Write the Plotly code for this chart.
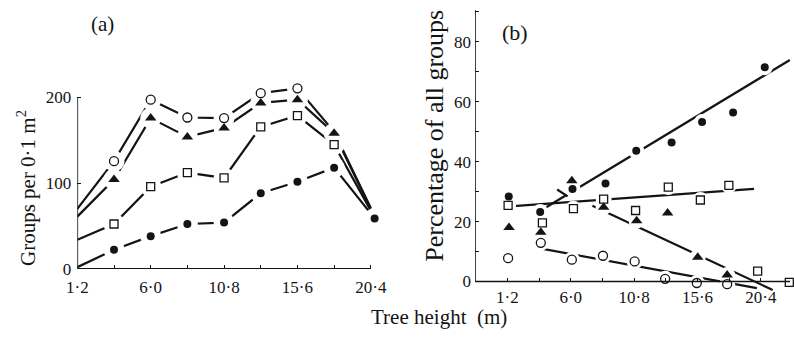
import plotly.graph_objects as go

W, H = 794, 342

# ---------------- data: panel (a) ----------------
heights = [1.2, 3.6, 6.0, 8.4, 10.8, 13.2, 15.6, 18.0, 20.4]
tick_labels = ["1·2", "", "6·0", "", "10·8", "", "15·6", "", "20·4"]

a_open = [70, 125.7, 197.4, 176.6, 175.9, 205, 210.6, 160, 71]
a_open_show = [0, 1, 1, 1, 1, 1, 1, 0, 0]
a_tri = [61, 104.2, 175.9, 154, 164.5, 193.6, 197.4, 158.2, 70]
a_tri_show = [0, 1, 1, 1, 1, 1, 1, 1, 0]
a_sq = [34, 52.4, 95.9, 112.4, 106.1, 165.7, 178.9, 144.9, 68]
a_sq_show = [0, 1, 1, 1, 1, 1, 1, 1, 0]
a_fill_x = [1.2, 3.6, 6.0, 8.4, 10.8, 13.2, 15.6, 18.0, 20.65]
a_fill = [2, 22.3, 38.2, 52.4, 54, 88.3, 101.6, 118.1, 58.9]
a_fill_show = [0, 1, 1, 1, 1, 1, 1, 1, 1]
a_yticks = [0, 100, 200]

# ---------------- data: panel (b) ----------------
b_fill_x = [1.30, 3.68, 6.13, 8.63, 10.96, 13.64, 15.95, 18.30, 20.70]
b_fill_y = [28.4, 23.2, 30.9, 32.7, 43.6, 46.4, 53.2, 56.4, 71.5]
b_sq_x = [1.25, 3.85, 6.20, 8.49, 10.91, 13.39, 15.82, 17.98, 20.16, 22.56]
b_sq_y = [25.4, 19.6, 24.3, 27.5, 23.7, 31.5, 27.2, 32.1, 3.5, -0.3]
b_tri_x = [1.32, 3.73, 6.08, 8.49, 10.99, 13.34, 15.62, 17.85]
b_tri_y = [18.0, 16.4, 33.6, 24.8, 20.3, 22.9, 8.1, 2.2]
b_open_x = [1.25, 3.73, 6.08, 8.44, 10.84, 13.15, 15.55, 17.85]
b_open_y = [7.8, 12.9, 7.3, 8.6, 6.7, 0.9, -0.5, -0.9]

fit_fill_x = [3.73, 22.6]
fit_fill_y = [23.7, 73.9]
fit_dash_x = [4.97, 5.76]
fit_dash_y = [30.7, 28.4]
fit_sq_x = [1.37, 19.89]
fit_sq_y = [25.1, 30.9]
fit_tri_x = [7.64, 21.3]
fit_tri_y = [25.3, -2.8]
fit_open_x = [3.36, 20.1]
fit_open_y = [11.3, -2.2]

b_yticks = [0, 10, 20, 30, 40, 50, 60, 70, 80, 90]
b_ytext = ["0", "", "20", "", "40", "", "60", "", "80", ""]

# ---------------- layout calibration (pixels) ----------------
INK = "#141414"
FONT = "Liberation Serif"

a_x0px, a_xpu = 67.6, 15.58
a_y0px, a_ypu = 277.0, 0.8831
a_xr = [1.2, 21.2]
a_yr = [0, 215]
b_x0px, b_xpu = 506.0, 13.45
b_y0px, b_ypu = 290.0, 3.0875
b_xr = [1.2 - (b_x0px - 473) / b_xpu, 1.2 + (W - b_x0px) / b_xpu]
b_yr = [-4, 92]


def fx(p):
    return p / W


def fy(p):
    return 1 - p / H


a_dom_x = [fx(a_x0px + (a_xr[0] - 1.2) * a_xpu), fx(a_x0px + (a_xr[1] - 1.2) * a_xpu)]
a_dom_y = [fy(a_y0px - a_yr[0] * a_ypu), fy(a_y0px - a_yr[1] * a_ypu)]
b_dom_x = [fx(b_x0px + (b_xr[0] - 1.2) * b_xpu), min(1.0, fx(b_x0px + (b_xr[1] - 1.2) * b_xpu))]
b_dom_y = [fy(b_y0px - b_yr[0] * b_ypu), fy(b_y0px - b_yr[1] * b_ypu)]

fig = go.Figure()


def pick(xs, ys, show):
    return [x for x, s in zip(xs, show) if s], [y for y, s in zip(ys, show) if s]


LW = 2.2

# ---- panel (a) lines (base axes x/y)
for xs, ys in [(heights, a_open), (heights, a_tri), (heights, a_sq), (a_fill_x, a_fill)]:
    fig.add_trace(go.Scatter(x=xs, y=ys, mode="lines", line=dict(color=INK, width=LW),
                             xaxis="x", yaxis="y", showlegend=False, hoverinfo="skip"))

a_sets = [
    (heights, a_open, a_open_show, dict(symbol="circle-open", size=9, color=INK, line=dict(width=1.3, color=INK))),
    (heights, a_tri, a_tri_show, dict(symbol="triangle-up", size=10, color=INK, line=dict(width=0))),
    (heights, a_sq, a_sq_show, dict(symbol="square-open", size=8, color=INK, line=dict(width=1.3, color=INK))),
    (a_fill_x, a_fill, a_fill_show, dict(symbol="circle", size=8, color=INK, line=dict(width=0))),
]
# white halos (on an overlaying subplot, so above the lines) leave gaps round markers
for xs, ys, show, mk in a_sets:
    px_, py_ = pick(xs, ys, show)
    fig.add_trace(go.Scatter(x=px_, y=py_, mode="markers", cliponaxis=False,
                             marker=dict(symbol="circle", size=21, color="white", line=dict(width=0)),
                             xaxis="x3", yaxis="y3", showlegend=False, hoverinfo="skip"))
for xs, ys, show, mk in a_sets:
    px_, py_ = pick(xs, ys, show)
    fig.add_trace(go.Scatter(x=px_, y=py_, mode="markers", cliponaxis=False, marker=mk,
                             xaxis="x3", yaxis="y3", showlegend=False))

# ---- panel (b) fitted lines (base axes x2/y2)
for xs, ys in [(fit_fill_x, fit_fill_y), (fit_dash_x, fit_dash_y), (fit_sq_x, fit_sq_y),
               (fit_tri_x, fit_tri_y), (fit_open_x, fit_open_y)]:
    fig.add_trace(go.Scatter(x=xs, y=ys, mode="lines", line=dict(color=INK, width=LW),
                             xaxis="x2", yaxis="y2", showlegend=False, hoverinfo="skip"))

b_sets = [
    (b_open_x, b_open_y, dict(symbol="circle-open", size=9, color=INK, line=dict(width=1.3, color=INK))),
    (b_tri_x, b_tri_y, dict(symbol="triangle-up", size=10, color=INK, line=dict(width=0))),
    (b_sq_x, b_sq_y, dict(symbol="square-open", size=8, color=INK, line=dict(width=1.3, color=INK))),
    (b_fill_x, b_fill_y, dict(symbol="circle", size=8, color=INK, line=dict(width=0))),
]
for xs, ys, mk in b_sets:
    fig.add_trace(go.Scatter(x=xs, y=ys, mode="markers", cliponaxis=False,
                             marker=dict(symbol="circle", size=16, color="white", line=dict(width=0)),
                             xaxis="x4", yaxis="y4", showlegend=False, hoverinfo="skip"))
for xs, ys, mk in b_sets:
    fig.add_trace(go.Scatter(x=xs, y=ys, mode="markers", cliponaxis=False, marker=mk,
                             xaxis="x4", yaxis="y4", showlegend=False))

tickfont = dict(family=FONT, size=17, color=INK)
axis_common = dict(showgrid=False, zeroline=False, showline=False, ticks="inside",
                   ticklen=4, tickwidth=1.3, tickcolor=INK, tickfont=tickfont, fixedrange=True)
hidden = dict(visible=False, showgrid=False, zeroline=False, fixedrange=True)

fig.update_layout(
    width=W, height=H, margin=dict(l=0, r=0, t=0, b=0),
    paper_bgcolor="white", plot_bgcolor="rgba(0,0,0,0)",
    xaxis=dict(domain=a_dom_x, range=a_xr, anchor="y", tickmode="array", ticklabelstandoff=6,
               tickvals=heights, ticktext=tick_labels, **axis_common),
    yaxis=dict(domain=a_dom_y, range=a_yr, anchor="x", tickmode="array", ticklabelstandoff=5,
               tickvals=a_yticks, ticktext=[str(v) for v in a_yticks], **axis_common),
    xaxis2=dict(domain=b_dom_x, range=b_xr, anchor="free", position=fy(b_y0px), tickmode="array",
                ticklabelstandoff=3, tickvals=heights, ticktext=tick_labels, **axis_common),
    yaxis2=dict(domain=b_dom_y, range=b_yr, anchor="x2", tickmode="array", ticklabelstandoff=3,
                tickvals=b_yticks, ticktext=b_ytext, **axis_common),
    xaxis3=dict(overlaying="x", range=a_xr, anchor="y3", **hidden),
    yaxis3=dict(overlaying="y", range=a_yr, anchor="x3", **hidden),
    xaxis4=dict(overlaying="x2", range=b_xr, anchor="y4", **hidden),
    yaxis4=dict(overlaying="y2", range=b_yr, anchor="x4", **hidden),
)

line_style = dict(color=INK, width=1.6)
fig.add_shape(type="line", xref="x", yref="y", x0=heights[0], x1=heights[0], y0=a_yticks[0], y1=a_yticks[-1], line=line_style)
fig.add_shape(type="line", xref="x", yref="y", x0=heights[0], x1=heights[-1], y0=0, y1=0, line=line_style)
fig.add_shape(type="line", xref="x2", yref="y2", x0=b_xr[0], x1=b_xr[0], y0=0, y1=90.6, line=line_style)
fig.add_shape(type="line", xref="x2", yref="y2", x0=b_xr[0], x1=b_xr[1], y0=0, y1=0, line=line_style)


def ann(text, px, py, size, angle=0):
    fig.add_annotation(text=text, x=fx(px), y=fy(py), xref="paper", yref="paper",
                       showarrow=False, textangle=angle, xanchor="center", yanchor="middle",
                       borderpad=0, font=dict(family=FONT, size=size, color=INK))


ann("(a)", 93, 25, 21)
ann("(b)", 514, 33, 22)
ann("Groups per 0·1 m<sup>2</sup>", 16, 194, 21, -90)
ann("Percentage of all groups", 432, 140, 26, -90)
ann("Tree height  (m)", 436, 327, 21)

fig.write_html("out.html")
